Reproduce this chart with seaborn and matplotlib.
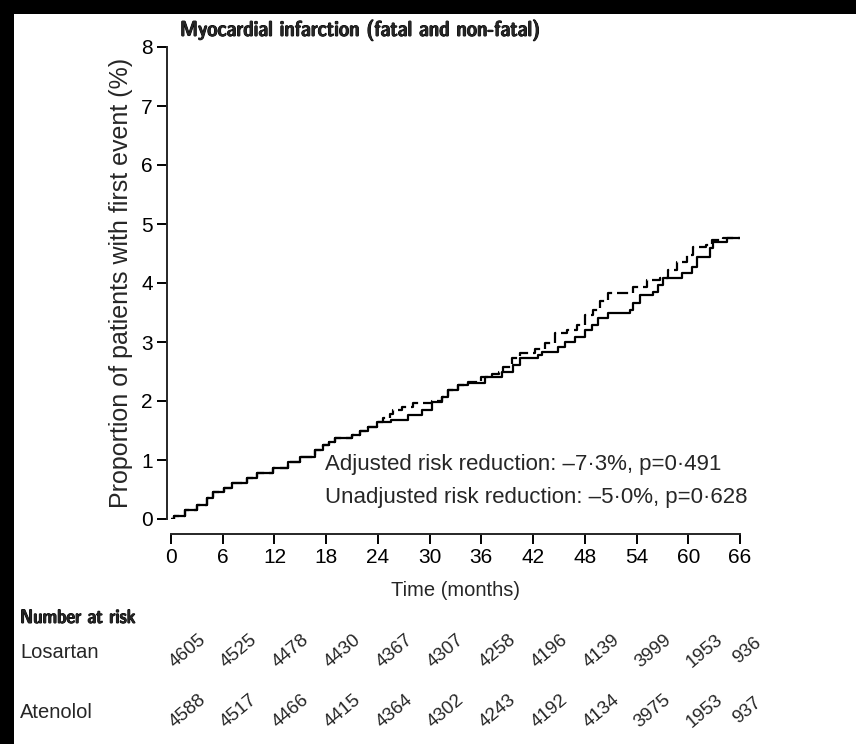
import matplotlib
matplotlib.use("Agg")
import matplotlib.pyplot as plt
from matplotlib import font_manager, patheffects
from matplotlib.font_manager import FontProperties
from matplotlib.patches import Rectangle
from matplotlib.transforms import blended_transform_factory
import pandas as pd
import seaborn as sns

# Kaplan-Meier style cumulative incidence (%), step times in months
losartan_t = [0, 0.4, 1.6, 3.0, 4.2, 4.9, 6.2, 7.1, 8.8, 10.0, 11.8, 13.6, 15.0,
              16.7, 17.6, 18.3, 19.0, 21.0, 21.9, 22.9, 23.9, 25.5, 27.5, 29.1,
              30.3, 31.4, 32.1, 33.3, 34.5, 36.4, 38.4, 39.7, 40.5, 42.6, 43.0,
              44.9, 45.7, 46.9, 48.0, 48.8, 49.5, 50.7, 53.2, 53.6, 54.4, 55.9,
              56.5, 57.1, 59.3, 60.4, 61.0, 62.5, 62.9, 64.5, 66.0]
losartan_pct = [0.0, 0.05, 0.15, 0.24, 0.36, 0.46, 0.52, 0.61, 0.69, 0.78, 0.86,
                0.97, 1.05, 1.17, 1.25, 1.30, 1.37, 1.42, 1.50, 1.56, 1.64, 1.68,
                1.76, 1.85, 1.98, 2.07, 2.19, 2.27, 2.30, 2.40, 2.49, 2.61, 2.73,
                2.78, 2.83, 2.92, 3.00, 3.08, 3.20, 3.29, 3.40, 3.49, 3.54, 3.66,
                3.80, 3.85, 3.97, 4.08, 4.17, 4.27, 4.44, 4.59, 4.69, 4.76, 4.76]

atenolol_t = [0, 0.4, 1.6, 3.0, 4.2, 4.9, 6.2, 7.1, 8.8, 10.0, 11.8, 13.6, 15.0,
              16.7, 17.6, 18.3, 19.0, 21.0, 21.9, 22.9, 23.9, 24.6, 25.4, 25.7,
              26.8, 28.1, 30.3, 31.4, 32.1, 33.3, 34.5, 36.0, 37.2, 38.0, 38.5,
              39.6, 40.5, 42.2, 43.4, 44.5, 45.9, 47.1, 48.0, 49.0, 49.8, 50.7,
              53.6, 55.2, 56.7, 57.7, 58.7, 59.9, 60.6, 62.0, 62.8, 64.0, 66.0]
atenolol_pct = [0.0, 0.05, 0.15, 0.24, 0.36, 0.46, 0.52, 0.61, 0.69, 0.78, 0.86,
                0.97, 1.05, 1.17, 1.25, 1.30, 1.37, 1.42, 1.50, 1.56, 1.64, 1.72,
                1.78, 1.85, 1.90, 1.97, 2.00, 2.07, 2.19, 2.27, 2.32, 2.40, 2.45,
                2.50, 2.58, 2.73, 2.81, 2.88, 2.98, 3.15, 3.20, 3.29, 3.46, 3.54,
                3.70, 3.83, 3.93, 4.05, 4.08, 4.22, 4.36, 4.47, 4.61, 4.64, 4.73,
                4.76, 4.76]

month_ticks = [0, 6, 12, 18, 24, 30, 36, 42, 48, 54, 60, 66]
y_ticks = [0, 1, 2, 3, 4, 5, 6, 7, 8]
losartan_at_risk = [4605, 4525, 4478, 4430, 4367, 4307, 4258, 4196, 4139, 3999, 1953, 936]
atenolol_at_risk = [4588, 4517, 4466, 4415, 4364, 4302, 4243, 4192, 4134, 3975, 1953, 937]

title_text = "Myocardial infarction (fatal and non-fatal)"
ylabel_text = "Proportion of patients with first event (%)"
xlabel_text = "Time (months)"
note_lines = ["Adjusted risk reduction: \u20137\u00b73%, p=0\u00b7491",
              "Unadjusted risk reduction: \u20135\u00b70%, p=0\u00b7628"]

df = pd.concat([
    pd.DataFrame({"month": losartan_t, "pct": losartan_pct, "arm": "Losartan"}),
    pd.DataFrame({"month": atenolol_t, "pct": atenolol_pct, "arm": "Atenolol"}),
], ignore_index=True)

sns.set_theme(style="ticks")
installed = {f.name for f in font_manager.fontManager.ttflist}
base = "Liberation Sans" if "Liberation Sans" in installed else "DejaVu Sans"
plt.rcParams["font.family"] = [base, "DejaVu Sans"]
plt.rcParams["axes.linewidth"] = 1.4
plt.rcParams["xtick.major.width"] = 1.4
plt.rcParams["ytick.major.width"] = 1.4
plt.rcParams["xtick.major.size"] = 7
plt.rcParams["ytick.major.size"] = 7


def condensed_font(bold):
    """Return FontProperties for an installed narrow/condensed face, or None."""
    best = None
    for f in font_manager.fontManager.ttflist:
        narrow = ("Narrow" in f.name or "Condensed" in f.name
                  or str(f.stretch) in ("condensed", "semi-condensed", "extra-condensed"))
        if not narrow:
            continue
        w = f.weight if isinstance(f.weight, int) else (700 if "bold" in str(f.weight) else 400)
        if (w >= 600) != bold or f.style != "normal":
            continue
        if best is None or "Sans" in f.name:
            best = f
    return FontProperties(fname=best.fname) if best is not None else None


bold_narrow = condensed_font(True)
heavy = [patheffects.withStroke(linewidth=0.7, foreground="black")]

W, H = 856, 744
fig = plt.figure(figsize=(W / 100, H / 100), dpi=100)
fig.patch.set_facecolor("white")

# plotting area: x 171..740 px, y 47..519 px from the top edge
ax = fig.add_axes([171 / W, 1 - 519 / H, (740 - 171) / W, (519 - 47) / H])
ax.set_facecolor("white")

sns.lineplot(data=df, x="month", y="pct", style="arm",
             dashes={"Losartan": "", "Atenolol": (5, 2.2)},
             color="black", linewidth=1.6, drawstyle="steps-post",
             estimator=None, sort=False, legend=False, ax=ax)

ax.set_xlim(0, 66)
ax.set_ylim(0, 8)
ax.set_xticks(month_ticks)
ax.set_yticks(y_ticks)
ax.tick_params(axis="both", labelsize=15, colors="black", pad=3)
ax.set_xlabel(xlabel_text, fontsize=14.5, labelpad=10)
ax.set_ylabel(ylabel_text, fontsize=18, labelpad=6)
sns.despine(ax=ax, offset={"left": 3, "bottom": 11})


def bold_text(x, y, s, size_narrow, size_plain, **kw):
    if bold_narrow is not None:
        fp = bold_narrow.copy()
        fp.set_size(size_narrow)
        return fig.text(x, y, s, fontproperties=fp, path_effects=heavy, **kw)
    return fig.text(x, y, s, fontsize=size_plain, fontweight="bold", **kw)


bold_text(180 / W, 1 - 30 / H, title_text, 15.5, 11.8, ha="left", va="center")

ax.text(17.9, 0.92, note_lines[0], fontsize=16, ha="left", va="center")
ax.text(17.9, 0.37, note_lines[1], fontsize=16, ha="left", va="center")

# number-at-risk table, one rotated count per tick month
bold_text(20 / W, 1 - 618 / H, "Number at risk", 14, 11.4, ha="left", va="center")
fig.text(20 / W, 1 - 652 / H, "Losartan", fontsize=14.5, ha="left", va="center")
fig.text(20 / W, 1 - 713 / H, "Atenolol", fontsize=14.5, ha="left", va="center")
tr = blended_transform_factory(ax.transData, fig.transFigure)
last = len(month_ticks) - 1
for i, (m, a, b) in enumerate(zip(month_ticks, losartan_at_risk, atenolol_at_risk)):
    shift = 1.9 if i < last else 0.8
    ax.text(m + shift, 1 - 651 / H, str(a), transform=tr, rotation=40,
            rotation_mode="anchor", ha="center", va="center", fontsize=13.5,
            clip_on=False)
    ax.text(m + shift, 1 - 711 / H, str(b), transform=tr, rotation=40,
            rotation_mode="anchor", ha="center", va="center", fontsize=13.5,
            clip_on=False)

# dark frame along the top and left edges
fig.patches.append(Rectangle((0, 1 - 14 / H), 1, 14 / H, transform=fig.transFigure,
                             facecolor="black", edgecolor="none", zorder=10))
fig.patches.append(Rectangle((0, 0), 14 / W, 1, transform=fig.transFigure,
                             facecolor="black", edgecolor="none", zorder=10))

fig.savefig("out.png", dpi=100, facecolor="white")
